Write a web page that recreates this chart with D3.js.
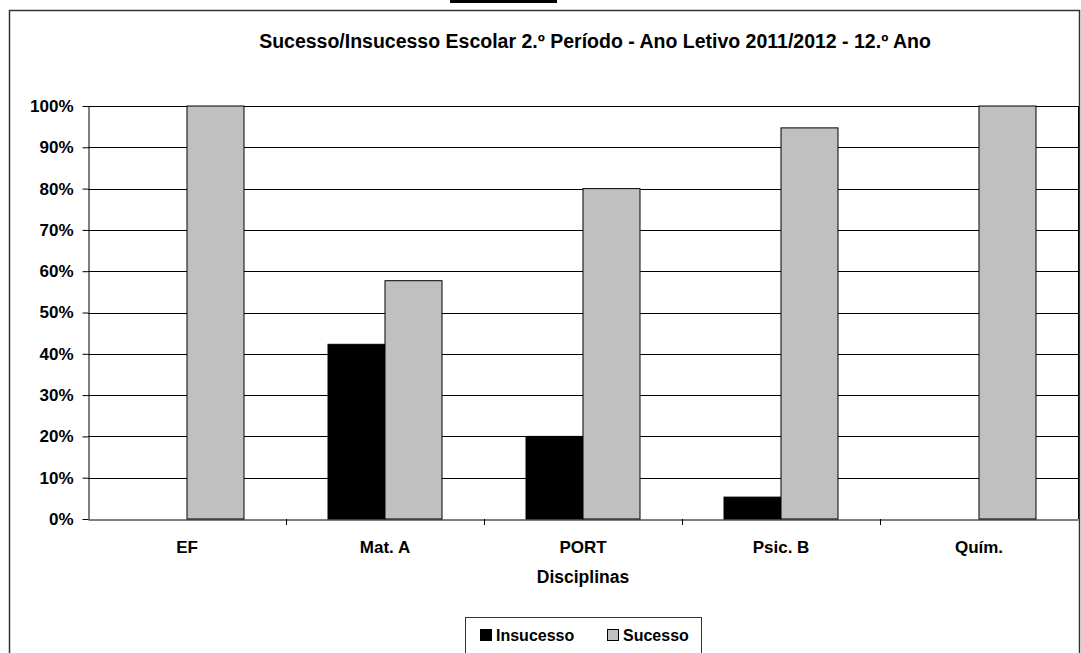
<!DOCTYPE html>
<html>
<head>
<meta charset="utf-8">
<script src="https://cdn.jsdelivr.net/npm/d3@7"></script>
<style>
  body { margin: 0; background: #fff; }
  svg text { font-family: "Liberation Sans", Arial, sans-serif; font-weight: bold; fill: #000; }
</style>
</head>
<body>
<svg width="1081" height="653"></svg>
<script>
var categories = ["EF", "Mat. A", "PORT", "Psic. B", "Quím."];
var insucesso = [0, 42.3, 20, 5.3, 0];
var sucesso = [100, 57.7, 80, 94.7, 100];
var seriesNames = ["Insucesso", "Sucesso"];
var seriesColors = ["#000000", "#c0c0c0"];
var yTicks = [0, 10, 20, 30, 40, 50, 60, 70, 80, 90, 100];

var svg = d3.select("svg");

// black tab at top and outer frame
svg.append("rect").attr("x", 450).attr("y", 0).attr("width", 107).attr("height", 3).attr("fill", "#000");
svg.append("rect")
    .attr("x", 9.5).attr("y", 10.5)
    .attr("width", 1070).attr("height", 660)
    .attr("fill", "none").attr("stroke", "#333").attr("stroke-width", 1.5);

var margin = {left: 88, right: 1078, top: 106, bottom: 519};

var x = d3.scaleBand().domain(categories).range([margin.left, margin.right]);
var y = d3.scaleLinear().domain([0, 100]).range([margin.bottom, margin.top]);
var x1 = d3.scaleBand().domain(seriesNames).range([0, x.bandwidth()]).paddingOuter(0.737).paddingInner(0);

// gridlines
svg.append("g").selectAll("line")
    .data(yTicks.filter(d => d > 0))
    .enter().append("line")
    .attr("x1", margin.left).attr("x2", margin.right)
    .attr("y1", d => Math.round(y(d)) + 0.5).attr("y2", d => Math.round(y(d)) + 0.5)
    .attr("stroke", "#000").attr("stroke-width", 1);

// right border of plot
svg.append("line")
    .attr("x1", margin.right + 0.5).attr("x2", margin.right + 0.5)
    .attr("y1", margin.top).attr("y2", margin.bottom)
    .attr("stroke", "#000");

var data = categories.map(function (c, i) {
    return {cat: c, values: [insucesso[i], sucesso[i]]};
});

var groups = svg.append("g").selectAll("g")
    .data(data)
    .enter().append("g")
    .attr("transform", d => "translate(" + x(d.cat) + ",0)");

groups.selectAll("rect")
    .data(d => d.values.map((v, i) => ({name: seriesNames[i], value: v, color: seriesColors[i]})))
    .enter().append("rect")
    .filter(d => d.value > 0)
    .attr("x", d => x1(d.name))
    .attr("y", d => y(d.value))
    .attr("width", x1.bandwidth())
    .attr("height", d => y(0) - y(d.value))
    .attr("fill", d => d.color)
    .attr("stroke", "#000")
    .attr("stroke-width", 1);

// y axis
var yAxis = svg.append("g")
    .attr("transform", "translate(" + (margin.left + 0.5) + ",0)")
    .call(d3.axisLeft(y).tickValues(yTicks).tickFormat(d => d + "%").tickSize(6).tickSizeOuter(0));
yAxis.select(".domain").attr("stroke", "#000");
yAxis.selectAll(".tick line").attr("stroke", "#000");
yAxis.selectAll("text").attr("font-size", 17).attr("x", -15).attr("font-family", "Liberation Sans, Arial, sans-serif").attr("font-weight", "bold");

// x axis
var xAxis = svg.append("g")
    .attr("transform", "translate(0," + (margin.bottom + 0.5) + ")")
    .call(d3.axisBottom(x).tickSize(0).tickSizeOuter(0));
xAxis.select(".domain").attr("stroke", "#000");
xAxis.selectAll("text").attr("font-size", 17).attr("y", 33).attr("dy", 0).attr("font-family", "Liberation Sans, Arial, sans-serif").attr("font-weight", "bold");

// category separator ticks
svg.append("g").selectAll("line")
    .data(categories.slice(1))
    .enter().append("line")
    .attr("x1", d => Math.round(x(d)) + 0.5).attr("x2", d => Math.round(x(d)) + 0.5)
    .attr("y1", margin.bottom).attr("y2", margin.bottom + 6)
    .attr("stroke", "#000");

// title
svg.append("text")
    .attr("x", 595).attr("y", 48)
    .attr("text-anchor", "middle")
    .attr("font-size", 19.5)
    .text("Sucesso/Insucesso Escolar 2.º Período - Ano Letivo 2011/2012 - 12.º Ano");

// x axis title
svg.append("text")
    .attr("x", 583).attr("y", 583)
    .attr("text-anchor", "middle")
    .attr("font-size", 17.5)
    .text("Disciplinas");

// legend
var legend = svg.append("g").attr("transform", "translate(465,617)");
legend.append("rect")
    .attr("x", 0.5).attr("y", 0.5).attr("width", 236).attr("height", 40)
    .attr("fill", "#fff").attr("stroke", "#333");
var items = legend.selectAll("g.item")
    .data(seriesNames)
    .enter().append("g")
    .attr("class", "item")
    .attr("transform", (d, i) => "translate(" + (15 + i * 127) + ",0)");
items.append("rect")
    .attr("x", 0.5).attr("y", 12.5).attr("width", 11).attr("height", 11)
    .attr("fill", (d, i) => seriesColors[i]).attr("stroke", "#000");
items.append("text")
    .attr("x", 16).attr("y", 24)
    .attr("font-size", 16)
    .text(d => d);
</script>
</body>
</html>
